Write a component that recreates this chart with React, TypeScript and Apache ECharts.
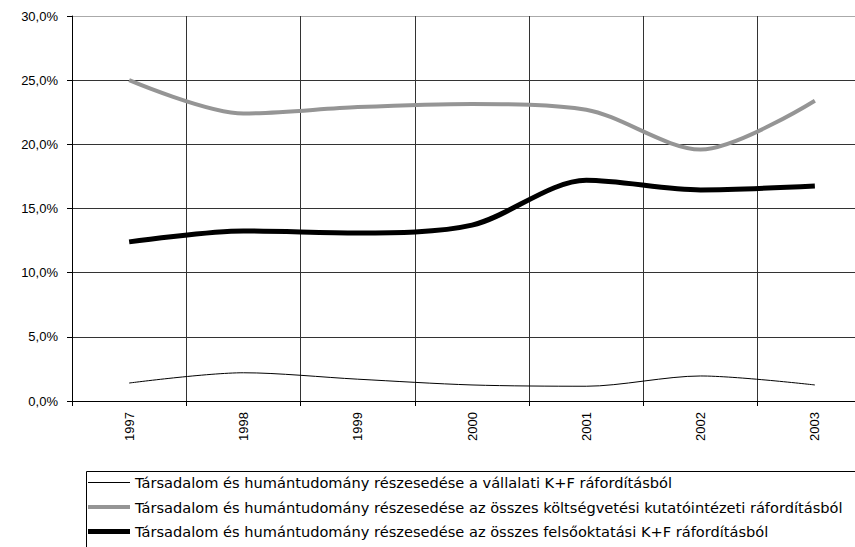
import React, { useEffect, useRef } from "react";
import * as echarts from "echarts";

const years = ["1997", "1998", "1999", "2000", "2001", "2002", "2003"];
const seriesNames = [
  "Társadalom és humántudomány részesedése a vállalati K+F ráfordításból",
  "Társadalom és humántudomány részesedése az összes költségvetési kutatóintézeti ráfordításból",
  "Társadalom és humántudomány részesedése az összes felsőoktatási K+F ráfordításból",
];
const vallalati = [1.4, 2.2, 1.7, 1.25, 1.15, 1.95, 1.25];
const koltsegvetesi = [25.0, 22.4, 22.9, 23.15, 22.7, 19.6, 23.4];
const felsooktatasi = [12.4, 13.25, 13.1, 13.7, 17.2, 16.45, 16.75];

const FONT = "'Liberation Sans', Arial, sans-serif";
const LEGEND_FONT = "'DejaVu Sans', Verdana, sans-serif";

export default function App() {
  const ref = useRef<HTMLDivElement>(null);
  useEffect(() => {
    if (!ref.current) return;
    const chart = echarts.init(ref.current, undefined, { renderer: "svg" });
    chart.setOption({
      animation: false,
      backgroundColor: "#ffffff",
      textStyle: { fontFamily: FONT },
      grid: {
        left: 72,
        top: 16,
        width: 800,
        height: 385,
        containLabel: false,
        outerBoundsMode: "none",
      },
      xAxis: {
        type: "category",
        data: years,
        boundaryGap: true,
        axisLine: { show: true, lineStyle: { color: "#000", width: 1 } },
        axisTick: { show: true, length: 5, lineStyle: { color: "#000" } },
        splitLine: { show: true, lineStyle: { color: "#333", width: 1 } },
        axisLabel: { rotate: 90, fontSize: 13, color: "#000", margin: 11, fontFamily: FONT },
      },
      yAxis: {
        type: "value",
        min: 0,
        max: 30,
        interval: 5,
        axisLine: { show: true, lineStyle: { color: "#000", width: 1 } },
        axisTick: { show: true, length: 5, lineStyle: { color: "#000" } },
        splitLine: {
          show: true,
          lineStyle: { color: ["#333", "#333", "#333", "#333", "#333", "#333", "#aaa"], width: 1 },
        },
        axisLabel: {
          fontSize: 13,
          color: "#000",
          margin: 14,
          fontFamily: FONT,
          formatter: (v: number) => v.toFixed(1).replace(".", ",") + "%",
        },
      },
      graphic: [
        {
          type: "rect",
          left: 84,
          top: 469,
          shape: { width: 769, height: 100 },
          style: { fill: "none", stroke: "#000", lineWidth: 1 },
          silent: true,
        },
      ],
      legend: {
        orient: "vertical",
        left: 88,
        top: 475,
        padding: 0,
        itemGap: 9.5,
        itemWidth: 42,
        itemHeight: 14,
        symbolKeepAspect: true,
        itemStyle: { borderWidth: 0 },
        textStyle: { fontSize: 14.6, lineHeight: 14, color: "#000", fontFamily: LEGEND_FONT },
        data: [
          { name: seriesNames[0], icon: "path://M0,0H42V1H0Z" },
          { name: seriesNames[1], icon: "path://M0,0H42V4H0Z" },
          { name: seriesNames[2], icon: "path://M0,0H42V5H0Z" },
        ],
      },
      series: [
        {
          name: seriesNames[0],
          type: "line",
          data: vallalati,
          smooth: 0.3,
          symbol: "none",
          lineStyle: { color: "#000", width: 1 },
          itemStyle: { color: "#000" },
        },
        {
          name: seriesNames[1],
          type: "line",
          data: koltsegvetesi,
          smooth: 0.3,
          symbol: "none",
          lineStyle: { color: "#959595", width: 4 },
          itemStyle: { color: "#959595" },
        },
        {
          name: seriesNames[2],
          type: "line",
          data: felsooktatasi,
          smooth: 0.3,
          symbol: "none",
          lineStyle: { color: "#000", width: 5 },
          itemStyle: { color: "#000" },
        },
      ],
    });
    return () => chart.dispose();
  }, []);
  return (
    <div
      ref={ref}
      style={{ position: "fixed", left: 0, top: 0, width: 855, height: 547, overflow: "hidden" }}
    />
  );
}
